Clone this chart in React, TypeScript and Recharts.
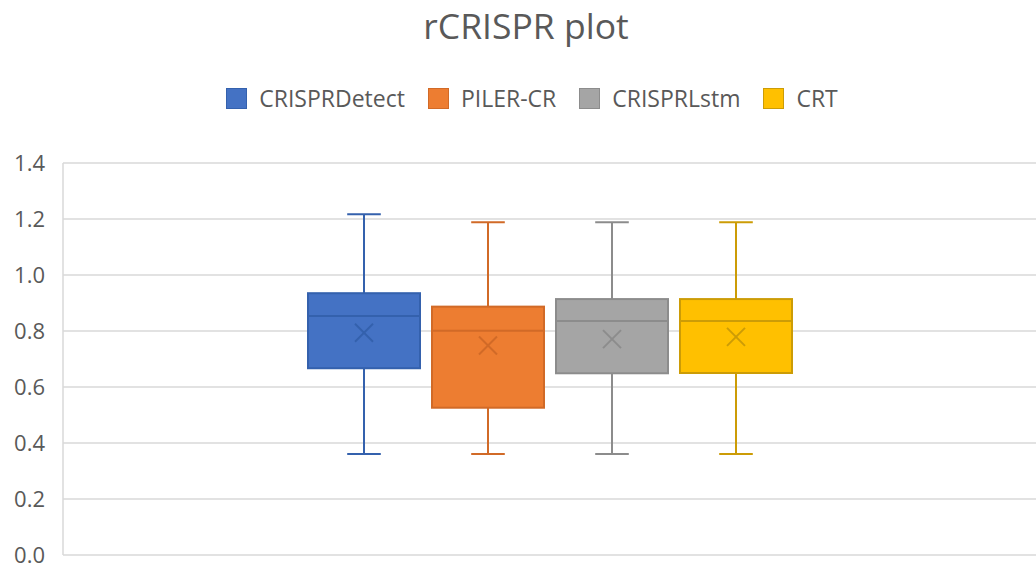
import { ComposedChart, Bar, XAxis, YAxis, CartesianGrid, Legend } from 'recharts'

// one category, four tools compared side by side
const categories = ['rCRISPR']
const seriesNames = ['CRISPRDetect', 'PILER-CR', 'CRISPRLstm', 'CRT']
const minValues = [0.361, 0.361, 0.361, 0.361]
const q1Values = [0.667, 0.526, 0.649, 0.65]
const medianValues = [0.854, 0.801, 0.836, 0.836]
const q3Values = [0.935, 0.887, 0.914, 0.914]
const maxValues = [1.217, 1.188, 1.188, 1.188]
const meanValues = [0.794, 0.748, 0.771, 0.779]
const yTicks = [0, 0.2, 0.4, 0.6, 0.8, 1.0, 1.2, 1.4]

const FILLS = ['#4472c4', '#ed7d31', '#a5a5a5', '#ffc000']
const STROKES = ['#3461ad', '#d16a27', '#8c8c8c', '#cc9c06']
const TEXT = '#595959'
const GRID = '#d9d9d9'
const FONT = '"Open Sans", sans-serif'

const W = 1036
const H = 569

const chartData = categories.map((name) => {
  const row: Record<string, unknown> = { name }
  seriesNames.forEach((s, i) => {
    row[s] = [minValues[i], maxValues[i]]
  })
  return row
})

// draws whiskers, box, median and mean cross inside the min..max bar rect
function makeBoxShape(i: number) {
  return function BoxShape(props: any) {
    const { x, y, width, height } = props
    if (height == null || width == null) return null
    const lo = minValues[i]
    const hi = maxValues[i]
    const toY = (v: number) => y + (height * (hi - v)) / (hi - lo)
    const cx = x + width / 2
    const cap = width * 0.3
    const yQ1 = toY(q1Values[i])
    const yQ3 = toY(q3Values[i])
    const yMed = toY(medianValues[i])
    const yMean = toY(meanValues[i])
    const yMin = toY(lo)
    const yMax = toY(hi)
    const m = 9
    const stroke = STROKES[i]
    return (
      <g>
        <line x1={cx} x2={cx} y1={yMax} y2={yQ3} stroke={stroke} strokeWidth={2} />
        <line x1={cx} x2={cx} y1={yQ1} y2={yMin} stroke={stroke} strokeWidth={2} />
        <line x1={cx - cap / 2} x2={cx + cap / 2} y1={yMax} y2={yMax} stroke={stroke} strokeWidth={2} />
        <line x1={cx - cap / 2} x2={cx + cap / 2} y1={yMin} y2={yMin} stroke={stroke} strokeWidth={2} />
        <rect x={x} y={yQ3} width={width} height={yQ1 - yQ3} fill={FILLS[i]} stroke={stroke} strokeWidth={2} />
        <line x1={x} x2={x + width} y1={yMed} y2={yMed} stroke={stroke} strokeWidth={2} />
        <line x1={cx - m} x2={cx + m} y1={yMean - m} y2={yMean + m} stroke={stroke} strokeWidth={2} />
        <line x1={cx - m} x2={cx + m} y1={yMean + m} y2={yMean - m} stroke={stroke} strokeWidth={2} />
      </g>
    )
  }
}

function LegendContent() {
  return (
    <div style={{ display: 'flex', justifyContent: 'center', alignItems: 'center', height: 24, paddingLeft: 28, boxSizing: 'border-box', fontFamily: FONT, fontSize: 23, color: TEXT }}>
      {seriesNames.map((s, i) => (
        <div key={s} style={{ display: 'flex', alignItems: 'center', marginRight: i < seriesNames.length - 1 ? 23 : 0 }}>
          <span style={{ display: 'inline-block', width: 21, height: 21, boxSizing: 'border-box', background: FILLS[i], border: `1.5px solid ${STROKES[i]}`, marginRight: 12 }} />
          <span>{s}</span>
        </div>
      ))}
    </div>
  )
}

export default function App() {
  return (
    <div style={{ position: 'absolute', left: 0, top: 0, width: W, height: H, background: '#fff' }}>
      <div style={{ position: 'absolute', top: 1, left: 0, width: W, paddingLeft: 16, boxSizing: 'border-box', textAlign: 'center', fontFamily: FONT, fontSize: 35.5, color: TEXT, lineHeight: '48px' }}>
        rCRISPR plot
      </div>
      <ComposedChart
        width={W}
        height={H}
        data={chartData}
        margin={{ top: 139, right: 0, bottom: 14, left: 0 }}
        barSize={112}
        barGap={12}
      >
        <CartesianGrid horizontal vertical={false} stroke={GRID} strokeWidth={1.5} />
        <XAxis dataKey="name" hide />
        <YAxis
          domain={[0, 1.4]}
          ticks={yTicks}
          width={63}
          tickLine={false}
          tickMargin={12}
          axisLine={{ stroke: GRID, strokeWidth: 1.5 }}
          tick={{ fill: TEXT, fontSize: 22, fontFamily: FONT }}
          tickFormatter={(v: number) => v.toFixed(1)}
          interval={0}
        />
        <Legend verticalAlign="top" content={<LegendContent />} wrapperStyle={{ top: 86, left: 0, width: W }} />
        {seriesNames.map((s, i) => (
          <Bar key={s} dataKey={s} name={s} fill={FILLS[i]} shape={makeBoxShape(i)} isAnimationActive={false} />
        ))}
      </ComposedChart>
    </div>
  )
}
